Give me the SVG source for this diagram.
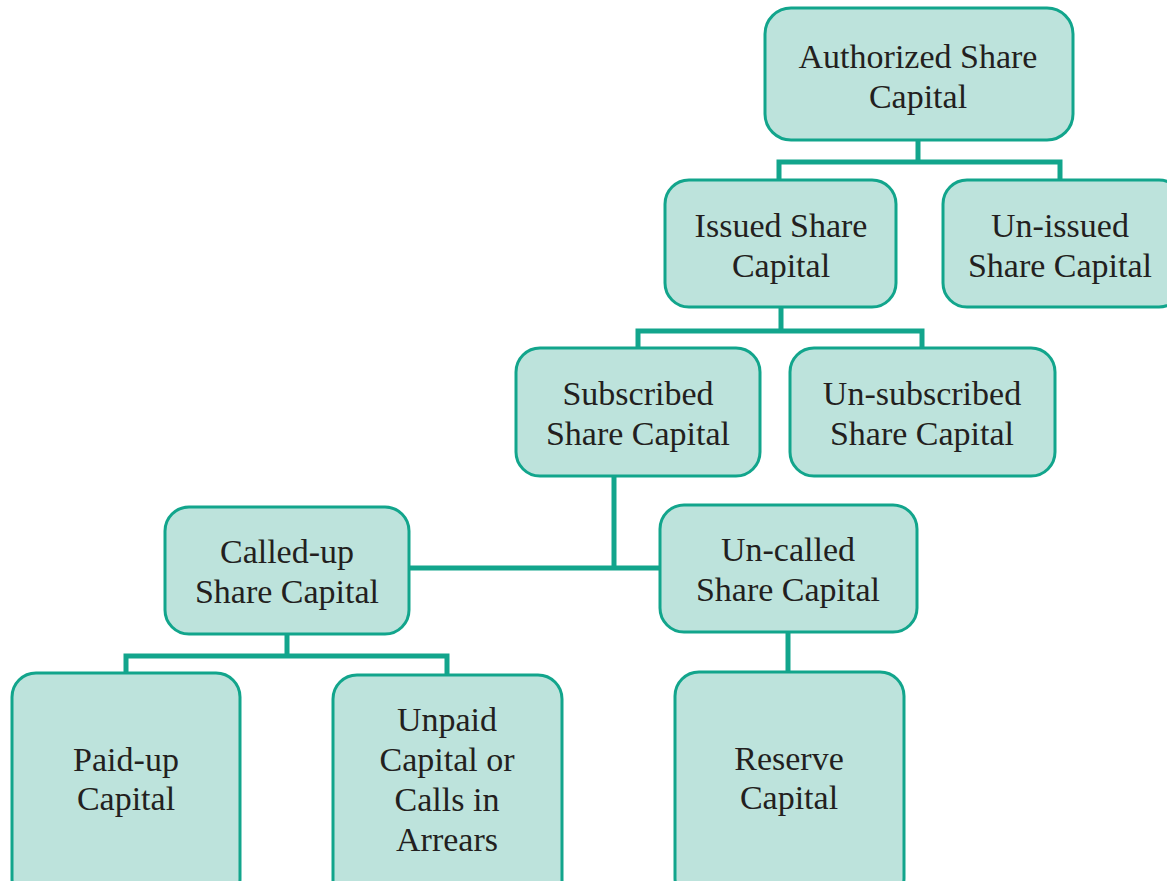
<svg xmlns="http://www.w3.org/2000/svg" width="1167" height="881" viewBox="0 0 1167 881">
<style>
.box{fill:#bde3dc;stroke:#12a58c;stroke-width:3}
.t{font-family:"Liberation Serif","DejaVu Serif",serif;font-size:34px;fill:#231f20;text-anchor:middle}
.c{fill:none;stroke:#12a58c;stroke-width:5;stroke-linecap:butt;stroke-linejoin:miter}
</style>
<rect width="1167" height="881" fill="#ffffff"/>
<g id="connectors">
<path class="c" d="M918 140V162M779 182V162H1060V182"/>
<path class="c" d="M781 307V331M638 350V331H922V350"/>
<path class="c" d="M614 476V568M410 568H660"/>
<path class="c" d="M287 634V656M126 675V656H447V677"/>
<path class="c" d="M788 632V674"/>
</g>
<g id="authorized"><rect class="box" x="765" y="8" width="308" height="132" rx="26"/><text class="t" x="918" y="68">Authorized Share</text><text class="t" x="918" y="108">Capital</text></g>
<g id="issued"><rect class="box" x="665" y="180" width="231" height="127" rx="24"/><text class="t" x="781" y="237">Issued Share</text><text class="t" x="781" y="277">Capital</text></g>
<g id="unissued"><rect class="box" x="943" y="180" width="240" height="127" rx="24"/><text class="t" x="1060" y="237">Un-issued</text><text class="t" x="1060" y="277">Share Capital</text></g>
<g id="subscribed"><rect class="box" x="516" y="348" width="244" height="128" rx="24"/><text class="t" x="638" y="405">Subscribed</text><text class="t" x="638" y="445">Share Capital</text></g>
<g id="unsubscribed"><rect class="box" x="790" y="348" width="265" height="128" rx="24"/><text class="t" x="922" y="405">Un-subscribed</text><text class="t" x="922" y="445">Share Capital</text></g>
<g id="calledup"><rect class="box" x="165" y="507" width="244" height="127" rx="24"/><text class="t" x="287" y="563">Called-up</text><text class="t" x="287" y="603">Share Capital</text></g>
<g id="uncalled"><rect class="box" x="660" y="505" width="257" height="127" rx="24"/><text class="t" x="788" y="561">Un-called</text><text class="t" x="788" y="601">Share Capital</text></g>
<g id="paidup"><rect class="box" x="12" y="673" width="228" height="230" rx="24"/><text class="t" x="126" y="771">Paid-up</text><text class="t" x="126" y="810">Capital</text></g>
<g id="unpaid"><rect class="box" x="333" y="675" width="229" height="230" rx="24"/><text class="t" x="447" y="731">Unpaid</text><text class="t" x="447" y="771">Capital or</text><text class="t" x="447" y="811">Calls in</text><text class="t" x="447" y="851">Arrears</text></g>
<g id="reserve"><rect class="box" x="675" y="672" width="229" height="230" rx="24"/><text class="t" x="789" y="770">Reserve</text><text class="t" x="789" y="809">Capital</text></g>
</svg>
